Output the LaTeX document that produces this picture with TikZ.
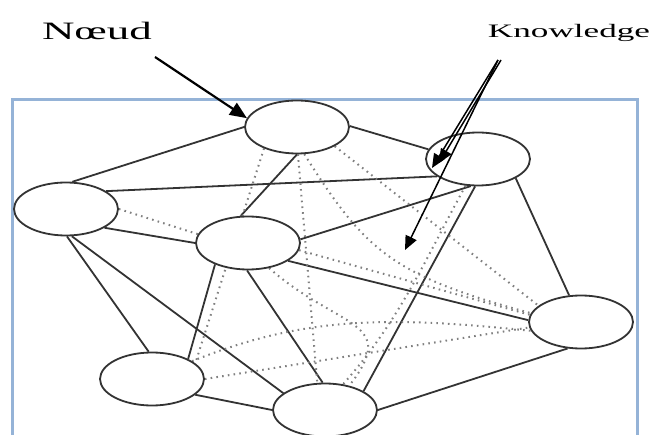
\documentclass[tikz,border=0pt]{standalone}
\usepackage{fontspec}
\setmainfont{Liberation Serif}
\usepackage{graphicx}
\usetikzlibrary{shapes.geometric, arrows.meta, backgrounds}
\definecolor{frameblue}{RGB}{149,179,215}

\begin{document}
\begin{tikzpicture}[x=1pt, y=-1pt,
	knot/.style={ellipse, draw=black!80, line width=1.8pt, fill=white, minimum width=104pt, minimum height=53pt, inner sep=0pt},
	link/.style={draw=black!80, line width=1.8pt},
	hint/.style={draw=black!50, line width=2pt, dash pattern=on 1.6pt off 4.2pt},
	pointer/.style={draw=black, line width=1.5pt, -{Triangle[length=14pt, width=12pt]}}]
		\useasboundingbox (0,0) rectangle (653,435);
		\draw[frameblue, line width=3pt] (12,437) -- (12,100) -- (637,100) -- (637,437);
		% labels
		\node[anchor=base, font=\fontsize{25}{25}\selectfont] (noeud) at (97,40) {\scalebox{1.8}[1]{Nœud}};
		\node[anchor=base, font=\fontsize{19}{19}\selectfont] (know) at (569,38) {\scalebox{1.85}[1]{Knowledge}};
		% the seven nodes
		\node[knot] (A) at (297,127) {};
		\node[knot] (B) at (478,159) {};
		\node[knot] (C) at (66,209) {};
		\node[knot] (D) at (248,243) {};
		\node[knot] (E) at (581,322) {};
		\node[knot] (F) at (152,379) {};
		\node[knot] (G) at (325,410) {};
		\begin{scope}[on background layer]
			\draw[link] (A.180) -- (C.77);
			\draw[link] (A.1) -- (B.169);
			\draw[link] (A.270) -- (D.105);
			\draw[link] (C.24) -- (B.203);
			\draw[link] (D.4) -- (B.255);
			\draw[link] (C.-26) -- (D.180);
			\draw[link] (D.-24) -- (E.178);
			\draw[link] (D.213) -- (F.29);
			\draw[link] (D.268) -- (G.95);
			\draw[link] (C.272) -- (F.97);
			\draw[link] (C.282) -- (G.158);
			\draw[link] (B.264) -- (G.26);
			\draw[link] (B.-27) -- (E.114);
			\draw[link] (F.-20) -- (G.180);
			\draw[link] (G.0) -- (E.243);
			% dotted knowledge links
			\draw[hint] (C.0) -- (D.170);
			\draw[hint] (A.213) -- (F.20);
			\draw[hint] (A.272) -- (G.106);
			\draw[hint] (A.-27) -- (E.159);
			\draw[hint] (A.285) .. controls (365,250) and (390,275) .. (E.170);
			\draw[hint] (D.-8) -- (E.172);
			\draw[hint] (F.0) -- (E.186);
			\draw[hint] (F.24) .. controls (300,318) and (380,315) .. (E.190);
			\draw[hint] (B.245) .. controls (425,260) and (400,320) .. (G.55);
			\draw[hint] (D.-50) .. controls (340,330) and (400,320) .. (G.45);
		\end{scope}
		% arrows
		\coordinate (nd) at (155,57);
		\draw[pointer, line width=2.2pt, -{Triangle[length=17pt, width=14pt]}] (nd) -- (A.170);
		\coordinate (kw) at (498,60);
		\coordinate (k1) at (432,168);
		\coordinate (k2) at (439,163);
		\coordinate (k3) at (405,250);
		\draw[pointer] (kw) -- (k1);
		\draw[pointer] ([xshift=3pt]kw) -- (k2);
		\draw[pointer] (kw) -- (k3);
\end{tikzpicture}
\end{document}
